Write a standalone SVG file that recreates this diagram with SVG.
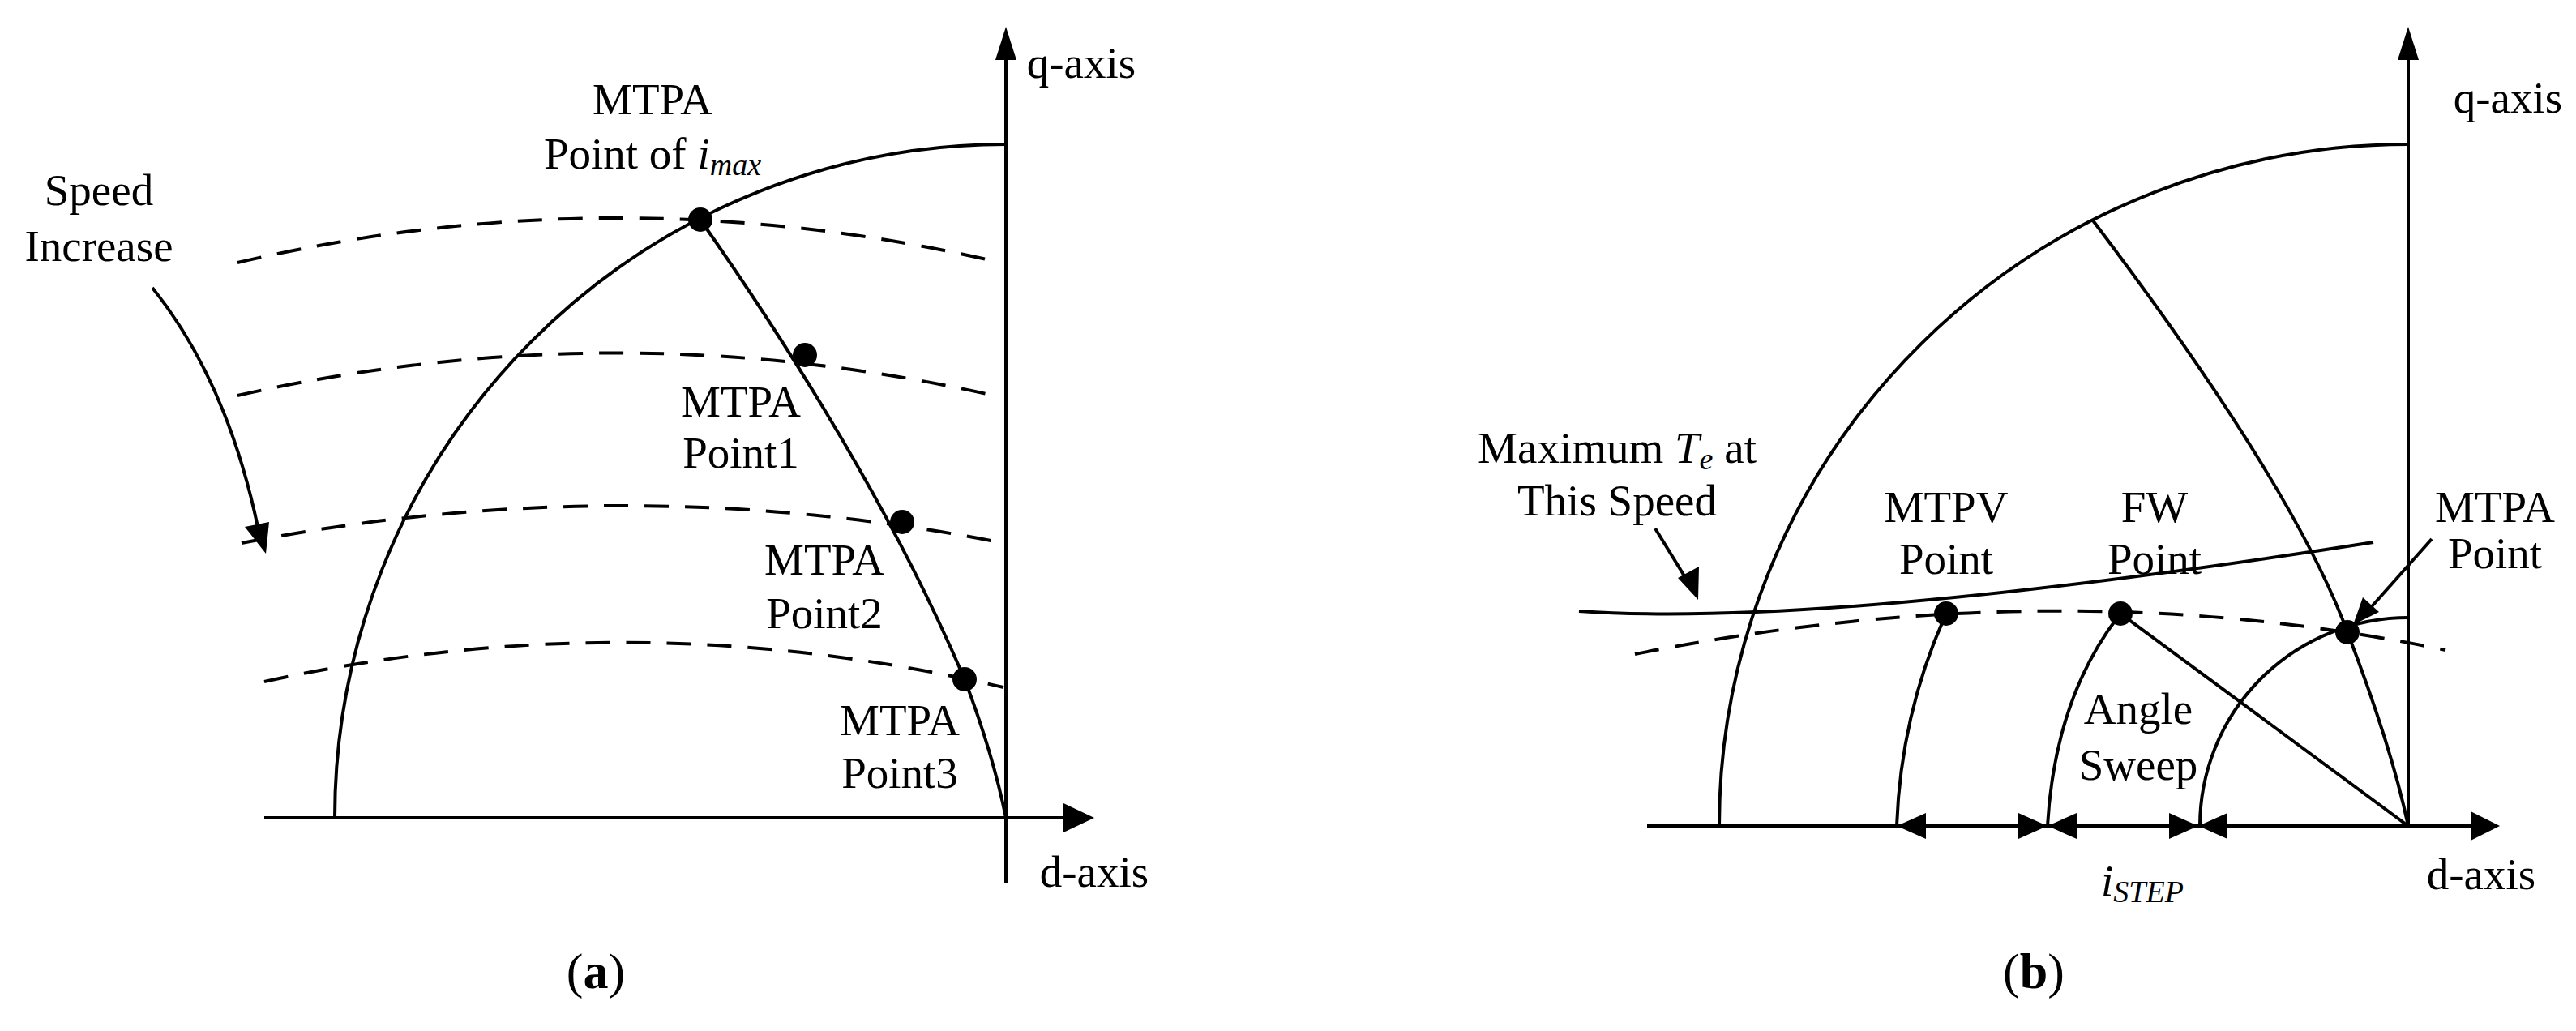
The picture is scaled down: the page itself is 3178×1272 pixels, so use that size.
<svg xmlns="http://www.w3.org/2000/svg" width="3178" height="1272" viewBox="0 0 3178 1272">
<style>
.s{fill:none;stroke:#000;stroke-width:4}
.d{fill:none;stroke:#000;stroke-width:4;stroke-dasharray:30,20}
.t{font-family:"Liberation Serif",serif;font-size:55px;text-anchor:middle;fill:#000}
.b{font-family:"Liberation Serif",serif;font-size:62px;text-anchor:middle;fill:#000}
.dot{fill:#000}
</style>
<rect width="3178" height="1272" fill="#fff"/>
<g id="panel-a">
<g id="axes-a">
<line class="s" x1="1241" y1="60" x2="1241" y2="1089"/>
<polygon points="1241,33 1228,74 1254,74"/>
<line class="s" x1="326" y1="1009" x2="1320" y2="1009"/>
<polygon points="1350,1009 1312,991 1312,1027"/>
<text class="t" x="1334" y="96">q-axis</text>
<text class="t" x="1350" y="1094">d-axis</text>
</g>
<g id="connectors-a">
<path class="s" d="M413,1009 A828,831 0 0 1 1241,178"/>
<path class="s" d="M864,271 Q1080,580 1190,838 Q1225,930 1241,1009"/>
<path class="d" d="M293,324 Q753,216 1217,320"/>
<path class="d" d="M293,488 Q755,384 1217,486"/>
<path class="d" d="M298,670 Q770,578 1238,670"/>
<path class="d" d="M326,841 Q780,741 1238,848"/>
<path class="s" d="M188,355 Q280,470 318,650"/>
<polygon points="328,683 302,650 332,644"/>
</g>
<g id="points-a">
<circle class="dot" cx="864" cy="271" r="15"/>
<circle class="dot" cx="993" cy="438" r="15"/>
<circle class="dot" cx="1113" cy="644" r="15"/>
<circle class="dot" cx="1190" cy="838" r="15"/>
</g>
<g id="labels-a">
<text class="t" x="122" y="253">Speed</text>
<text class="t" x="122" y="322">Increase</text>
<text class="t" x="805" y="141">MTPA</text>
<text class="t" x="805" y="208">Point of <tspan font-style="italic">i</tspan><tspan font-style="italic" font-size="38" dy="8">max</tspan></text>
<text class="t" x="914" y="514">MTPA</text>
<text class="t" x="914" y="577">Point1</text>
<text class="t" x="1017" y="709">MTPA</text>
<text class="t" x="1017" y="775">Point2</text>
<text class="t" x="1110" y="907">MTPA</text>
<text class="t" x="1110" y="972">Point3</text>
<text class="b" x="735" y="1219">(<tspan font-weight="bold">a</tspan>)</text>
</g>
</g>
<g id="panel-b">
<g id="axes-b">
<line class="s" x1="2971" y1="60" x2="2971" y2="1019"/>
<polygon points="2971,33 2958,74 2984,74"/>
<line class="s" x1="2032" y1="1019" x2="3055" y2="1019"/>
<polygon points="3084,1019 3048,1001 3048,1037"/>
<text class="t" x="3094" y="139">q-axis</text>
<text class="t" x="3061" y="1097">d-axis</text>
</g>
<g id="connectors-b">
<path class="s" d="M2121,1019 A850,841 0 0 1 2971,178"/>
<path class="s" d="M2582,272 Q2830,600 2896,780 Q2950,920 2971,1019"/>
<path class="s" d="M1948,754 Q2250,775 2928,669"/>
<path class="d" d="M2017,807 Q2540,703 3017,802"/>
<path class="s" d="M2401,757 Q2345,880 2340,1019"/>
<path class="s" d="M2616,757 Q2535,860 2526,1019"/>
<line class="s" x1="2616" y1="757" x2="2971" y2="1019"/>
<path class="s" d="M2714,1019 A257,257 0 0 1 2971,762"/>
<line class="s" x1="2042" y1="652" x2="2085" y2="722"/>
<polygon points="2095,740 2070,713 2096,699"/>
<line class="s" x1="3000" y1="665" x2="2920" y2="755"/>
<polygon points="2903,771 2915,737 2935,755"/>
<polygon points="2340,1019 2376,1003 2376,1035"/>
<polygon points="2526,1019 2490,1003 2490,1035"/>
<polygon points="2526,1019 2562,1003 2562,1035"/>
<polygon points="2712,1019 2676,1003 2676,1035"/>
<polygon points="2712,1019 2748,1003 2748,1035"/>
</g>
<g id="points-b">
<circle class="dot" cx="2401" cy="757" r="15"/>
<circle class="dot" cx="2616" cy="757" r="15"/>
<circle class="dot" cx="2896" cy="780" r="15"/>
</g>
<g id="labels-b">
<text class="t" x="1995" y="571">Maximum <tspan font-style="italic">T</tspan><tspan font-style="italic" font-size="38" dy="8">e</tspan><tspan dy="-8"> at</tspan></text>
<text class="t" x="1995" y="636">This Speed</text>
<text class="t" x="2401" y="644">MTPV</text>
<text class="t" x="2401" y="708">Point</text>
<text class="t" x="2658" y="644">FW</text>
<text class="t" x="2658" y="708">Point</text>
<text class="t" x="3078" y="644">MTPA</text>
<text class="t" x="3078" y="701">Point</text>
<text class="t" x="2638" y="893">Angle</text>
<text class="t" x="2638" y="962">Sweep</text>
<text class="t" x="2643" y="1105"><tspan font-style="italic">i</tspan><tspan font-style="italic" font-size="38" dy="8">STEP</tspan></text>
<text class="b" x="2509" y="1219">(<tspan font-weight="bold">b</tspan>)</text>
</g>
</g>
</svg>
